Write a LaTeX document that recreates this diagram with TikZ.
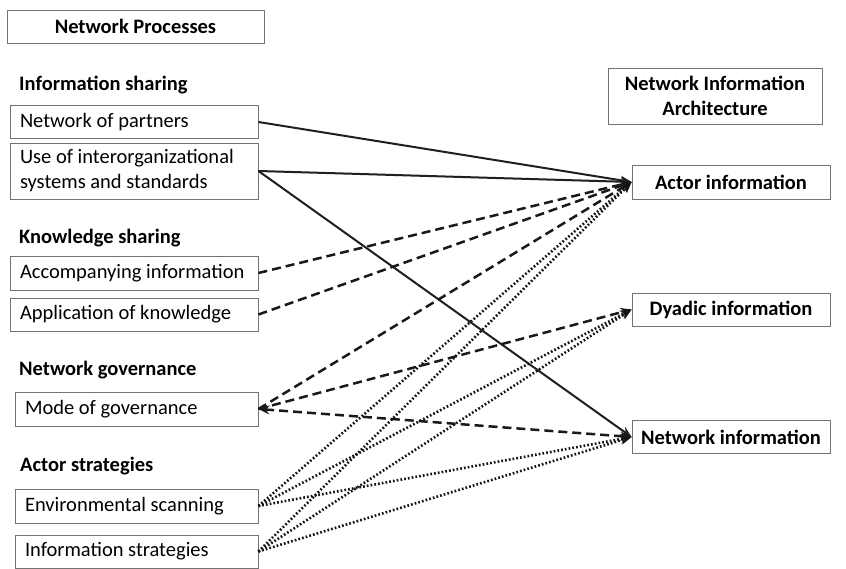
\documentclass[tikz,border=0pt]{standalone}
\usepackage{fontspec}
\setmainfont{Carlito}
\usetikzlibrary{arrows.meta}
\begin{document}
\begin{tikzpicture}[x=1pt,y=-1pt,
  txt/.style={font=\fontsize{20.5}{25}\selectfont},
  boxbase/.style={txt, draw=black!55, line width=0.9pt, rectangle, inner sep=0pt, minimum height=33pt, align=left,
    execute at begin node={\spaceskip=0pt\xspaceskip=0pt}},
  leftbox/.style={boxbase, minimum width=248pt, text width=228pt},
  lowbox/.style={boxbase, minimum width=243pt, text width=223pt},
  boldbox/.style={boxbase, align=center, font=\fontsize{20.5}{25}\selectfont\bfseries},
  rightbox/.style={boldbox, minimum width=198pt},
  heading/.style={txt, font=\fontsize{20.5}{25}\selectfont\bfseries, anchor=west, inner sep=0pt},
  tip/.style={-{Stealth[length=11pt,width=9pt]}},
  solidlink/.style={tip, draw=black!88, line width=2pt},
  dashlink/.style={tip, draw=black!90, line width=2.5pt, dash pattern=on 9pt off 5pt},
  dotlink/.style={tip, draw=black!92, line width=2.6pt, dash pattern=on 1.7pt off 2.1pt}
]
\useasboundingbox (0,0) rectangle (846,569);
\fill[white] (0,0) rectangle (846,569);

% left column: processes
\node[boldbox, minimum width=257pt, minimum height=33pt] (np) at (135.5,26.5) {Network Processes};

\node[heading] (h1) at (19,85) {Information sharing};
\node[leftbox] (partners) at (134,122) {Network of partners};
\node[leftbox, minimum height=56pt] (interorg) at (134,171) {Use of interorganizational\\systems and standards};

\node[heading] (h2) at (19,238) {Knowledge sharing};
\node[leftbox, minimum height=34pt] (accomp) at (134,273) {Accompanying information};
\node[leftbox] (applic) at (134,314.5) {Application of knowledge};

\node[heading] (h3) at (19,370) {Network governance};
\node[lowbox, minimum height=34pt] (mode) at (136.5,409) {Mode of governance};

\node[heading] (h4) at (20,466) {Actor strategies};
\node[lowbox, minimum height=34pt] (env) at (136.5,506) {Environmental scanning};
\node[lowbox, minimum height=33pt] (infostr) at (136.5,551.5) {Information strategies};

% right column: information architecture
\node[boldbox, minimum width=214pt, minimum height=56pt] (nia) at (715,96) {Network Information\\Architecture};
\node[rightbox, minimum height=34pt] (actor) at (731,182) {Actor information};
\node[rightbox] (dyadic) at (731,309.5) {Dyadic information};
\node[rightbox] (netinfo) at (731,437) {Network information};

% information sharing
\draw[solidlink] (partners.east) -- (actor.west);
\draw[solidlink] (interorg.east) -- (actor.west);
\draw[solidlink] (interorg.east) -- (netinfo.west);

% knowledge sharing
\draw[dashlink] (accomp.east) -- (actor.west);
\draw[dashlink] (applic.east) -- (actor.west);

% network governance
\draw[dashlink] (mode.east) -- (actor.west);
\draw[dashlink] (mode.east) -- (dyadic.west);
\draw[dashlink, {Stealth[length=11pt,width=9pt]}-{Stealth[length=11pt,width=9pt]}] (mode.east) -- (netinfo.west);

% actor strategies
\draw[dotlink] (env.east) -- (actor.west);
\draw[dotlink] (env.east) -- (dyadic.west);
\draw[dotlink] (env.east) -- (netinfo.west);
\draw[dotlink] (infostr.east) -- (actor.west);
\draw[dotlink] (infostr.east) -- (dyadic.west);
\draw[dotlink] (infostr.east) -- (netinfo.west);
\end{tikzpicture}
\end{document}
